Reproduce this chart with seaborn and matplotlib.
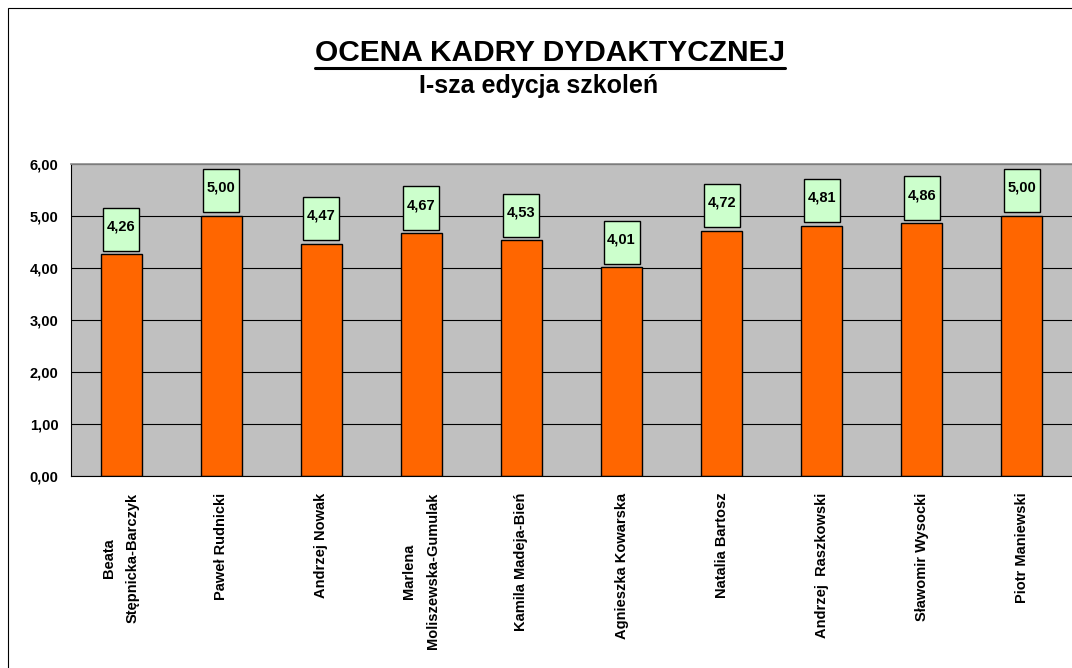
import numpy as np
import matplotlib
matplotlib.use('Agg')
import matplotlib.pyplot as plt
import seaborn as sns
from matplotlib.patches import Rectangle
from matplotlib.lines import Line2D

names = ['Beata\nStępnicka-Barczyk', 'Paweł Rudnicki', 'Andrzej Nowak',
         'Marlena\nMoliszewska-Gumulak', 'Kamila Madeja-Bień', 'Agnieszka Kowarska',
         'Natalia Bartosz', 'Andrzej  Raszkowski', 'Sławomir Wysocki', 'Piotr Maniewski']
scores = [4.26, 5.00, 4.47, 4.67, 4.53, 4.01, 4.72, 4.81, 4.86, 5.00]
yticks = [0, 1, 2, 3, 4, 5, 6]

sns.set_theme(style='white')
plt.rcParams['font.family'] = ['Liberation Sans', 'DejaVu Sans']
plt.rcParams['text.color'] = 'black'
plt.rcParams['xtick.color'] = 'black'
plt.rcParams['ytick.color'] = 'black'

W, H = 1072, 668
fig = plt.figure(figsize=(W / 100, H / 100), dpi=100)
fig.patch.set_facecolor('white')
ax = fig.add_axes([71 / W, 192 / H, 1001 / W, 312 / H])
ax.set_facecolor('#C0C0C0')

sns.barplot(x=names, y=scores, color='#FF6600', saturation=1, edgecolor='black',
            linewidth=1, width=0.41, ax=ax, zorder=2)

# value labels in green boxes
for i, v in enumerate(scores):
    ax.add_patch(Rectangle((i - 0.18, v + 0.07), 0.36, 0.83, facecolor='#CCFFCC',
                           edgecolor='black', lw=1, zorder=3, clip_on=False))
    ax.text(i, v + 0.07 + 0.47, f'{v:.2f}'.replace('.', ','), ha='center', va='center',
            fontsize=10.5, fontweight='bold', color='black', zorder=4)

ax.set_xlim(-0.5, 9.5)
ax.set_ylim(0, 6)
ax.set_yticks(yticks)
ax.set_yticklabels([f'{t:.2f}'.replace('.', ',') for t in yticks], fontsize=10.5, fontweight='bold')
ax.set_axisbelow(True)
ax.yaxis.grid(True, color='black', lw=0.8)
ax.set_xlabel('')
ax.set_ylabel('')

ax.set_xticks(np.arange(-0.5, 10, 1), minor=True)
ax.tick_params(axis='x', which='major', length=0, pad=12)
ax.tick_params(axis='x', which='minor', length=4, width=0.8, color='black', direction='out')
ax.tick_params(axis='y', which='major', length=4, width=0.8, color='black', direction='out', pad=5)
for lab in ax.get_xticklabels():
    lab.set_rotation(90)
    lab.set_fontsize(10.5)
    lab.set_fontweight('bold')
    lab.set_multialignment('center')
    lab.set_linespacing(1.9)

for s in ['left', 'bottom']:
    ax.spines[s].set_color('black')
    ax.spines[s].set_linewidth(0.8)
ax.spines['top'].set_color('#909090')
ax.spines['right'].set_visible(False)

# outer chart frame
fig.patches.append(Rectangle((8 / W, -0.1), 1.2, 1 - 8 / H + 0.1, transform=fig.transFigure,
                             fill=False, edgecolor='black', lw=0.8))

title = fig.text(550 / W, 1 - 61 / H, 'OCENA KADRY DYDAKTYCZNEJ', ha='center', va='baseline',
                 fontsize=21.5, fontweight='bold')
fig.text(539 / W, 1 - 93 / H, 'I-sza edycja szkoleń', ha='center', va='baseline',
         fontsize=18, fontweight='bold')

fig.canvas.draw()
bb = title.get_window_extent()
uy = (H - 68) / H
fig.lines.append(Line2D([bb.x0 / W, bb.x1 / W], [uy, uy], transform=fig.transFigure,
                        color='black', lw=2.2))

fig.savefig('out.png', dpi=100)
